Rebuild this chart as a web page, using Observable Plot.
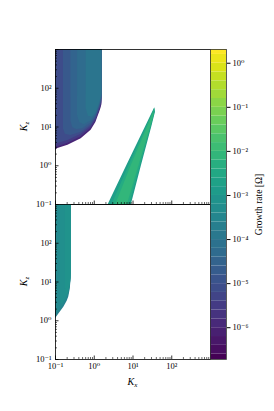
<!DOCTYPE html>
<html><head><meta charset="utf-8">
<script src="https://cdn.jsdelivr.net/npm/d3@7"></script>
<script src="https://cdn.jsdelivr.net/npm/@observablehq/plot@0.6"></script>
<style>
html,body{margin:0;padding:0;background:#fff;}
#chart{position:relative;width:274px;height:411px;overflow:hidden;background:#fff;}
#chart svg{position:absolute;left:0;overflow:visible;}
</style></head><body><div id="chart"></div>
<script>
// ---- axis ticks / labels ----
const kDomain = [0.1, 1000];
const kMajor = [0.1, 1, 10, 100, 1000];
const kTickValues = [0.1, 1, 10, 100];
const kTickLabels = ["10⁻¹", "10⁰", "10¹", "10²"];
const cbTickValues = [1e-6, 1e-5, 1e-4, 1e-3, 1e-2, 1e-1, 1];
const cbTickLabels = ["10⁻⁶", "10⁻⁵", "10⁻⁴", "10⁻³", "10⁻²", "10⁻¹", "10⁰"];
const growthDomain = [1.9e-7, 2.05];
const colorbarLabel = "Growth rate [Ω]";

// ---- top panel: low-Kx unstable region, nested levels [Kx, lower Kz] (extends to Kz top) ----
const topBlobLayers = [
  {rate: 1.0e-6, pts: [[0.1,2.5],[0.115,2.8],[0.21,3.4],[0.46,5.0],[0.83,8.3],[1.1,13],[1.24,18],[1.4,25],[1.5,31],[1.58,38]]},
  {rate: 3.2e-6, pts: [[0.1,2.9],[0.21,3.8],[0.46,5.6],[0.83,9.3],[1.1,14.5],[1.24,20],[1.4,28],[1.5,35],[1.58,43]]},
  {rate: 7.9e-6, pts: [[0.1,3.6],[0.21,4.5],[0.46,6.5],[0.83,10.5],[1.1,16],[1.24,22],[1.4,31],[1.5,39],[1.58,48]]},
  {rate: 1.6e-5, pts: [[0.16,9],[0.18,6.5],[0.25,6.0],[0.46,7.3],[0.83,11.5],[1.1,17.5],[1.24,24],[1.4,34],[1.5,43],[1.58,53]]},
  {rate: 3.2e-5, pts: [[0.25,14],[0.28,9.5],[0.35,8.6],[0.5,9.0],[0.83,12.8],[1.1,19],[1.24,26],[1.4,37],[1.58,58]]},
  {rate: 5.6e-5, pts: [[0.37,20],[0.42,13],[0.55,11.5],[0.83,14.5],[1.1,21],[1.24,28],[1.4,40],[1.58,63]]},
  {rate: 1.0e-4, pts: [[0.62,30],[0.7,19],[0.9,18],[1.1,23],[1.24,31],[1.4,44],[1.58,70]]}
];

// ---- top panel: diagonal band, nested levels [Kz, left Kx, right Kx] ----
const bandLayers = [
  {rate: 1.6e-3, pts: [[0.1,2.3,9.1],[1,6.9,16.5],[10,21,30.5],[24,32,38],[31,36.3,36.7]]},
  {rate: 4.0e-3, pts: [[0.1,2.9,8.2],[1,7.9,15.5],[10,22.5,29.5],[24,33,37],[29,35.5,36.5]]},
  {rate: 7.9e-3, pts: [[0.1,3.6,7.2],[1,9.0,14.2],[10,24,28.5],[22,33,35.5]]}
];

// ---- bottom panel: low-Kx region, nested levels [Kx, lower Kz] ----
const bottomBlobLayers = [
  {rate: 2.5e-4, pts: [[0.1,1.12],[0.122,1.5],[0.164,2.24],[0.2,3.2],[0.22,4.1],[0.24,6.5],[0.254,12.3]]},
  {rate: 4.0e-4, pts: [[0.1,1.35],[0.122,1.75],[0.164,2.6],[0.2,3.7],[0.22,4.8],[0.24,7.5],[0.254,14]]},
  {rate: 5.6e-4, pts: [[0.13,4],[0.14,2.6],[0.164,3.0],[0.2,4.2],[0.22,5.4],[0.24,8.5],[0.254,16]]},
  {rate: 7.9e-4, pts: [[0.18,7],[0.19,4.5],[0.21,5.3],[0.23,7],[0.245,10],[0.254,18]]}
];

// ---- shared configuration ----
const colorOpts = {type: "log", scheme: "viridis", domain: growthDomain};
const fontStyle = {fontFamily: "'Liberation Serif','DejaVu Serif',serif", fontSize: "8.5px", background: "transparent", overflow: "visible"};
const PANEL = 155;
const kMinor = kMajor.slice(0, -1).flatMap(d => [2,3,4,5,6,7,8,9].map(m => d * m));
const kFmt = d => { const i = kTickValues.indexOf(d); return i < 0 ? "" : kTickLabels[i]; };

function blobMarks(layers) {
  return layers.map(L => Plot.areaY(
    L.pts.map(([x, y]) => ({x, y1: y, y2: kDomain[1], rate: L.rate})),
    {x: "x", y1: "y1", y2: "y2", fill: "rate", clip: true}));
}
function bandMarks(layers) {
  return layers.map(L => Plot.areaX(
    L.pts.map(([y, x1, x2]) => ({y, x1, x2, rate: L.rate})),
    {y: "y", x1: "x1", x2: "x2", fill: "rate", clip: true}));
}
function tickMarks(withX) {
  const m = [
    Plot.tickY(kMajor, {y: d => d, insetRight: PANEL - 3.5, stroke: "black", strokeWidth: 0.8}),
    Plot.tickY(kMinor, {y: d => d, insetRight: PANEL - 2, stroke: "black", strokeWidth: 0.6}),
    Plot.axisY({ticks: kTickValues, tickFormat: kFmt, tickSize: 0, tickPadding: 4, label: null})
  ];
  if (withX) {
    m.push(Plot.tickX(kMajor, {x: d => d, insetTop: PANEL - 3.5, stroke: "black", strokeWidth: 0.8}));
    m.push(Plot.tickX(kMinor, {x: d => d, insetTop: PANEL - 2, stroke: "black", strokeWidth: 0.6}));
  }
  return m;
}

const topPlot = Plot.plot({
  width: 274, height: 204, marginLeft: 55, marginRight: 64, marginTop: 49, marginBottom: 0,
  x: {type: "log", domain: kDomain, axis: null},
  y: {type: "log", domain: kDomain, axis: null},
  color: colorOpts, style: fontStyle,
  marks: [
    ...blobMarks(topBlobLayers),
    ...bandMarks(bandLayers),
    ...tickMarks(true),
    Plot.frame({stroke: "black", strokeWidth: 0.8})
  ]
});

const bottomPlot = Plot.plot({
  width: 274, height: 207, marginLeft: 55, marginRight: 64, marginTop: 0, marginBottom: 52,
  x: {type: "log", domain: kDomain, axis: null},
  y: {type: "log", domain: kDomain, axis: null},
  color: colorOpts, style: fontStyle,
  marks: [
    ...blobMarks(bottomBlobLayers),
    ...tickMarks(true),
    Plot.axisX({ticks: kTickValues, tickFormat: kFmt, tickSize: 0, tickPadding: 3, label: null}),
    Plot.frame({stroke: "black", strokeWidth: 0.8})
  ]
});

// colorbar bands (contour levels of the colour scale)
const cbLevels = d3.range(-7, 0.6, 0.2);
const cbBands = cbLevels.map(a => ({lo: Math.max(10 ** a, growthDomain[0]), hi: Math.min(10 ** (a + 0.2), growthDomain[1]), mid: 10 ** (a + 0.1)}))
  .filter(d => d.lo < d.hi);

const cbPlot = Plot.plot({
  width: 274, height: 411, marginLeft: 210, marginRight: 48, marginTop: 49, marginBottom: 52,
  x: {domain: [0, 1], axis: null},
  y: {type: "log", domain: growthDomain, axis: null},
  color: colorOpts, style: fontStyle,
  marks: [
    Plot.rect(cbBands, {x1: 0, x2: 1, y1: "lo", y2: "hi", fill: "mid", clip: true}),
    Plot.frame({stroke: "#333", strokeWidth: 0.8}),
    Plot.axisY({anchor: "right", ticks: cbTickValues, tickFormat: d => cbTickLabels[cbTickValues.indexOf(d)], tickSize: 3.5, tickPadding: 2.5, label: null}),
    Plot.text([colorbarLabel], {frameAnchor: "middle", text: d => d, rotate: -90, dx: 40, fontSize: 9.5})
  ]
});

const chart = document.getElementById("chart");
topPlot.style.top = "0px";
bottomPlot.style.top = "204px";
cbPlot.style.top = "0px";
chart.append(topPlot, bottomPlot, cbPlot);

// italic axis titles with subscripts
function subLabel(svg, x, y, main, sub, rot) {
  const t = d3.select(svg).append("text")
    .attr("transform", `translate(${x},${y}) rotate(${rot})`)
    .attr("text-anchor", "middle")
    .attr("font-family", "'Liberation Serif','DejaVu Serif',serif")
    .attr("font-style", "italic").attr("font-size", 10).attr("fill", "black");
  t.append("tspan").text(main);
  t.append("tspan").attr("font-size", 7).attr("dy", 2).text(sub);
}
subLabel(topPlot, 27, 126.5, "K", "z", -90);
subLabel(bottomPlot, 27, 77.5, "K", "z", -90);
subLabel(bottomPlot, 132.5, 180.5, "K", "x", 0);
</script></body></html>
